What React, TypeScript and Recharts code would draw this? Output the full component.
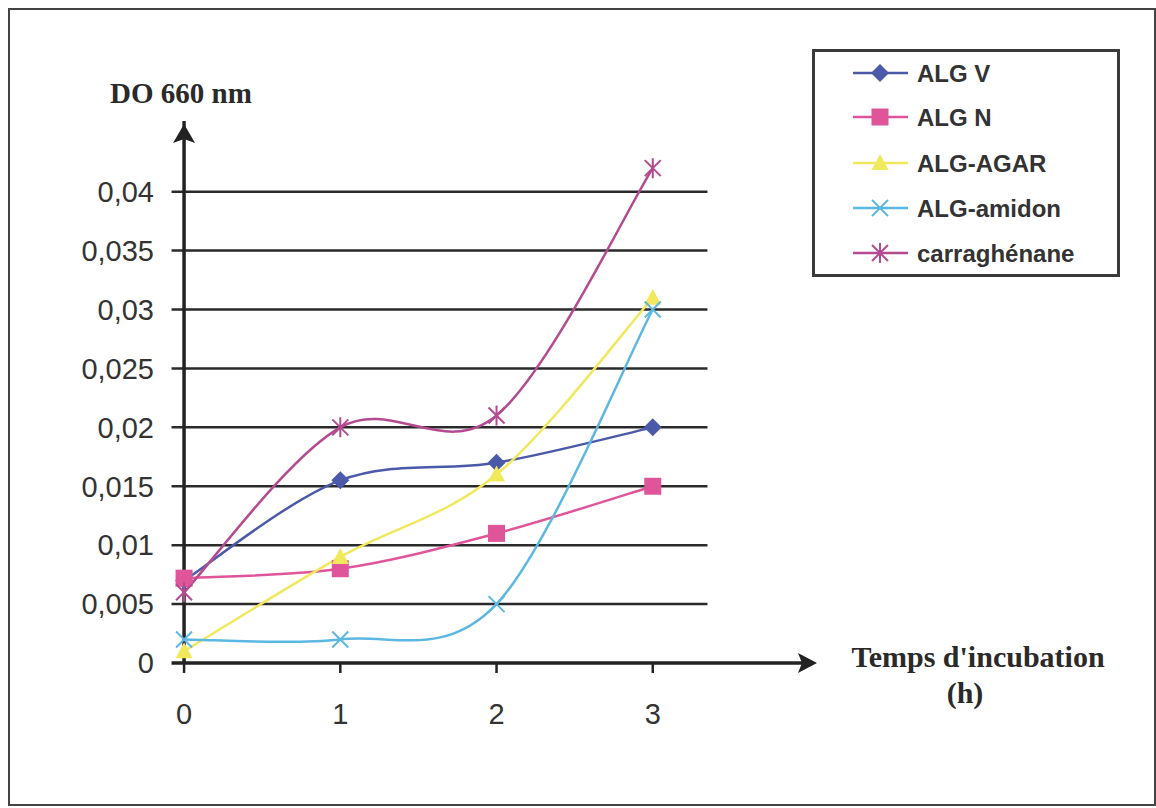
import React from 'react';
import {
  LineChart,
  Line,
  XAxis,
  YAxis,
  ReferenceLine,
  ReferenceDot,
  Legend,
} from 'recharts';

const hours = [0, 1, 2, 3];
const algV = [0.007, 0.0155, 0.017, 0.02];
const algN = [0.0072, 0.008, 0.011, 0.015];
const algAgar = [0.001, 0.009, 0.016, 0.031];
const algAmidon = [0.002, 0.002, 0.005, 0.03];
const carraghenane = [0.006, 0.02, 0.021, 0.042];
const yTicks = [0, 0.005, 0.01, 0.015, 0.02, 0.025, 0.03, 0.035, 0.04];

const data = hours.map((h, i) => ({
  h,
  algV: algV[i],
  algN: algN[i],
  algAgar: algAgar[i],
  algAmidon: algAmidon[i],
  carraghenane: carraghenane[i],
}));

type Shape = 'diamond' | 'square' | 'triangle' | 'cross' | 'star';

const series: { key: string; name: string; color: string; shape: Shape }[] = [
  { key: 'algV', name: 'ALG V', color: '#4a5aa8', shape: 'diamond' },
  { key: 'algN', name: 'ALG N', color: '#e0559a', shape: 'square' },
  { key: 'algAgar', name: 'ALG-AGAR', color: '#f2e85c', shape: 'triangle' },
  { key: 'algAmidon', name: 'ALG-amidon', color: '#5cb8e2', shape: 'cross' },
  { key: 'carraghenane', name: 'carraghénane', color: '#b44a90', shape: 'star' },
];

// excel-like smoothed line (catmull-rom as bezier)
const excelCurve = (context: any) => {
  let pts: number[][] = [];
  return {
    areaStart() {},
    areaEnd() {},
    lineStart() {
      pts = [];
    },
    point(x: number, y: number) {
      pts.push([+x, +y]);
    },
    lineEnd() {
      if (!pts.length) return;
      context.moveTo(pts[0][0], pts[0][1]);
      for (let i = 0; i < pts.length - 1; i++) {
        const p0 = pts[Math.max(i - 1, 0)];
        const p1 = pts[i];
        const p2 = pts[i + 1];
        const p3 = pts[Math.min(i + 2, pts.length - 1)];
        context.bezierCurveTo(
          p1[0] + (p2[0] - p0[0]) / 6,
          p1[1] + (p2[1] - p0[1]) / 6,
          p2[0] - (p3[0] - p1[0]) / 6,
          p2[1] - (p3[1] - p1[1]) / 6,
          p2[0],
          p2[1]
        );
      }
    },
  };
};

function Marker({ shape, color, cx, cy }: { shape: Shape; color: string; cx: number; cy: number }) {
  if (shape === 'diamond') {
    return <path d={`M${cx},${cy - 9} L${cx + 9},${cy} L${cx},${cy + 9} L${cx - 9},${cy} Z`} fill={color} />;
  }
  if (shape === 'square') {
    return <rect x={cx - 8.5} y={cy - 8.5} width={17} height={17} fill={color} />;
  }
  if (shape === 'triangle') {
    return <path d={`M${cx},${cy - 9} L${cx + 8.5},${cy + 7} L${cx - 8.5},${cy + 7} Z`} fill={color} />;
  }
  if (shape === 'cross') {
    return (
      <path
        d={`M${cx - 8},${cy - 8} L${cx + 8},${cy + 8} M${cx - 8},${cy + 8} L${cx + 8},${cy - 8}`}
        stroke={color}
        strokeWidth={2}
        fill="none"
      />
    );
  }
  return (
    <path
      d={`M${cx - 8},${cy - 8} L${cx + 8},${cy + 8} M${cx - 8},${cy + 8} L${cx + 8},${cy - 8} M${cx},${cy - 10} L${cx},${cy + 10}`}
      stroke={color}
      strokeWidth={2}
      fill="none"
    />
  );
}

const makeDot = (shape: Shape, color: string) => (props: any) => {
  const { cx, cy, index } = props;
  if (cx == null || cy == null) return <g key={`${shape}-${index}`} />;
  return (
    <g key={`${shape}-${index}`}>
      <Marker shape={shape} color={color} cx={cx} cy={cy} />
    </g>
  );
};

const rowY = [24, 68, 114, 159, 204];

function LegendBox() {
  return (
    <div
      style={{
        width: 308,
        height: 228,
        border: '3px solid #3a3a3a',
        boxSizing: 'border-box',
        background: '#fff',
      }}
    >
      <svg width={302} height={222}>
        {series.map((s, i) => (
          <g key={s.key}>
            <line x1={38} x2={93} y1={rowY[i] - 3} y2={rowY[i] - 3} stroke={s.color} strokeWidth={2.5} />
            <Marker shape={s.shape} color={s.color} cx={65} cy={rowY[i] - 3} />
            <text
              x={102}
              y={rowY[i] - 3}
              dominantBaseline="central"
              fontFamily="'Liberation Sans', Arial, sans-serif"
              fontWeight="bold"
              fontSize={24}
              fill="#333"
            >
              {s.name}
            </text>
          </g>
        ))}
      </svg>
    </div>
  );
}

const fmt = (v: number) => String(v).replace('.', ',');

export default function App() {
  return (
    <>
      <style>{'body{margin:0;background:#fff}'}</style>
      <div
        style={{
          position: 'relative',
          margin: '8px 0 0 8px',
          width: 1148,
          height: 798,
          border: '2px solid #444',
          boxSizing: 'border-box',
          background: '#fff',
        }}
      >
        <LineChart
          width={1144}
          height={794}
          data={data}
          margin={{ top: 111, right: 345, bottom: 81, left: 80 }}
        >
          <XAxis
            type="number"
            dataKey="h"
            domain={[-0.09, 4]}
            ticks={hours}
            allowDataOverflow
            axisLine={false}
            tickLine={{ stroke: '#222', strokeWidth: 2.5 }}
            tickSize={10}
            tickMargin={30}
            height={60}
            tick={{ fontSize: 29, fill: '#333', fontFamily: "'Liberation Sans', Arial, sans-serif" }}
          />
          <YAxis
            type="number"
            domain={[0, 0.046]}
            ticks={yTicks}
            allowDataOverflow
            axisLine={false}
            tickLine={false}
            tickMargin={10}
            width={80}
            tickFormatter={fmt}
            tick={{ fontSize: 29, fill: '#333', fontFamily: "'Liberation Sans', Arial, sans-serif" }}
          />
          {yTicks.slice(1).map((v) => (
            <ReferenceLine
              key={v}
              segment={[
                { x: -0.08, y: v },
                { x: 3.35, y: v },
              ]}
              stroke="#2a2a2a"
              strokeWidth={2.5}
            />
          ))}
          <ReferenceLine x={0} stroke="#222" strokeWidth={3.5} />
          <ReferenceLine
            segment={[
              { x: -0.08, y: 0 },
              { x: 4, y: 0 },
            ]}
            stroke="#222"
            strokeWidth={3.5}
          />
          <ReferenceDot
            x={0}
            y={0.046}
            r={0}
            shape={(p: any) => (
              <path
                d={`M${p.cx},${p.cy + 3} L${p.cx + 11},${p.cy + 22} L${p.cx},${p.cy + 18} L${p.cx - 11},${p.cy + 22} Z`}
                fill="#222"
              />
            )}
          />
          <ReferenceDot
            x={4}
            y={0}
            r={0}
            shape={(p: any) => (
              <path
                d={`M${p.cx + 8},${p.cy} L${p.cx - 11},${p.cy + 10} L${p.cx - 7},${p.cy} L${p.cx - 11},${p.cy - 10} Z`}
                fill="#222"
              />
            )}
          />
          {series.map((s) => (
            <Line
              key={s.key}
              dataKey={s.key}
              name={s.name}
              type={excelCurve as any}
              stroke={s.color}
              strokeWidth={2.5}
              dot={makeDot(s.shape, s.color)}
              activeDot={false}
              isAnimationActive={false}
            />
          ))}
          <Legend
            layout="vertical"
            align="center"
            verticalAlign="middle"
            wrapperStyle={{ position: 'absolute', left: 802, top: 39, width: 308 }}
            content={() => <LegendBox />}
          />
        </LineChart>
        <svg
          width={1144}
          height={794}
          style={{ position: 'absolute', left: 0, top: 0, pointerEvents: 'none' }}
        >
          <text
            x={100}
            y={93}
            fontFamily="'Liberation Serif', 'Times New Roman', serif"
            fontWeight="bold"
            fontSize={29}
            fill="#2a2a2a"
          >
            DO 660 nm
          </text>
          <text
            x={968}
            y={657}
            textAnchor="middle"
            fontFamily="'Liberation Serif', 'Times New Roman', serif"
            fontWeight="bold"
            fontSize={30}
            fill="#2a2a2a"
          >
            Temps d'incubation
          </text>
          <text
            x={955}
            y={693}
            textAnchor="middle"
            fontFamily="'Liberation Serif', 'Times New Roman', serif"
            fontWeight="bold"
            fontSize={30}
            fill="#2a2a2a"
          >
            (h)
          </text>
        </svg>
      </div>
    </>
  );
}
